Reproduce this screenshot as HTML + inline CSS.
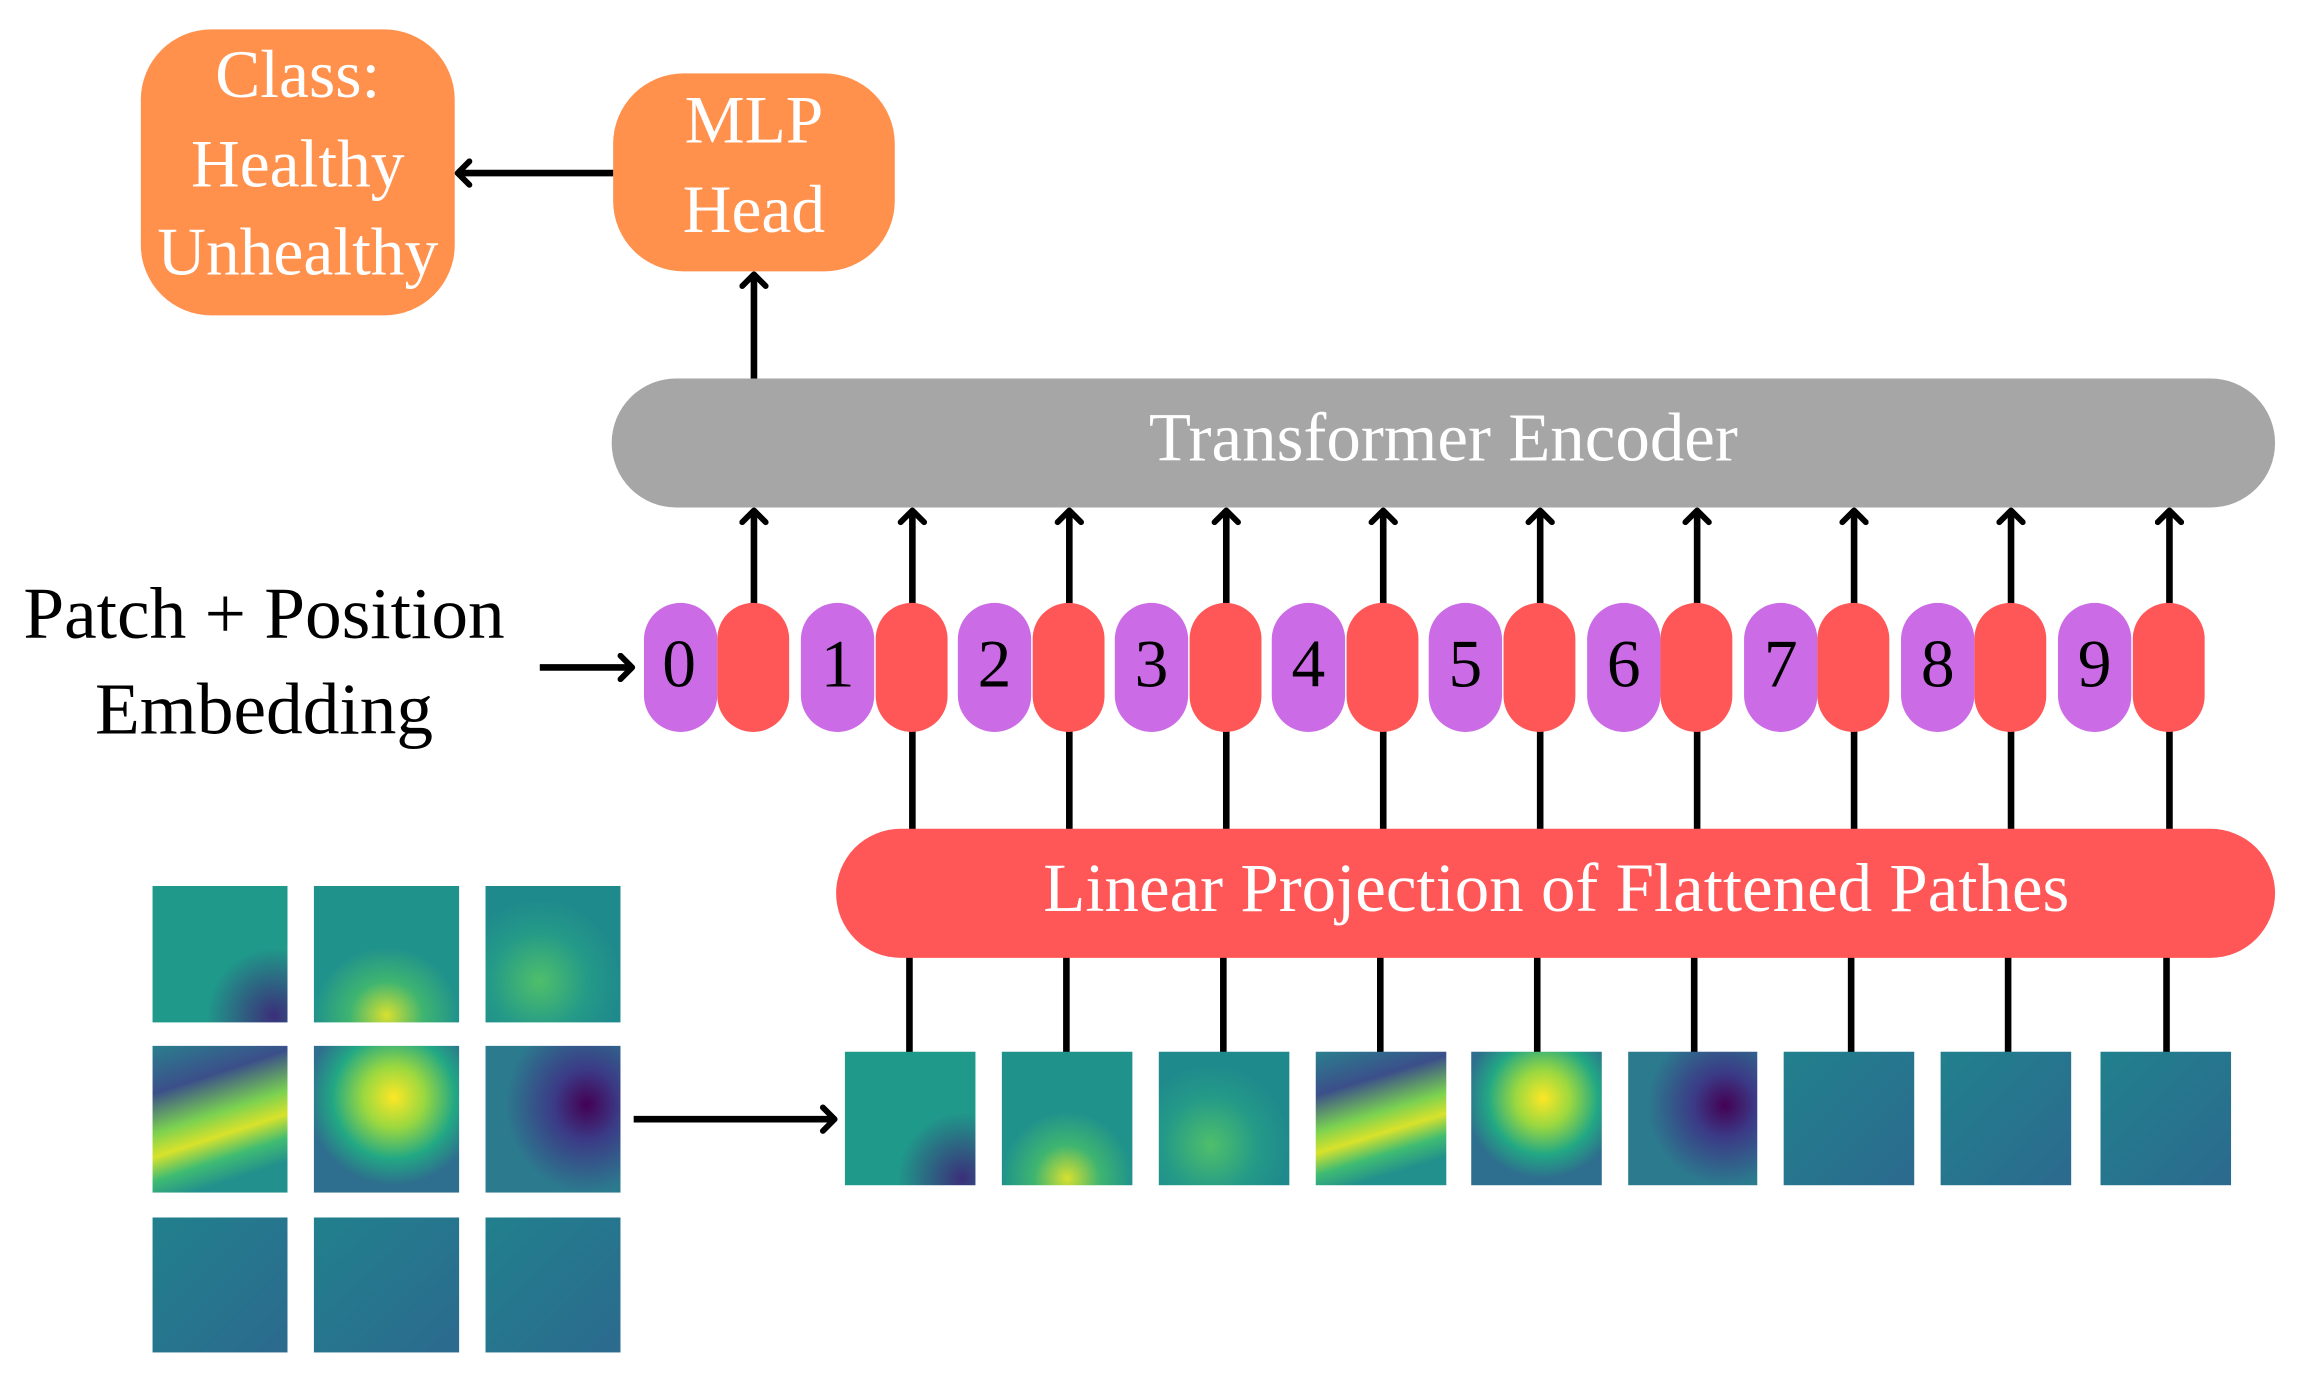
<!DOCTYPE html>
<html><head><style>html,body{margin:0;padding:0;background:#fff}svg{display:block}</style></head>
<body>
<svg width="2300" height="1384" viewBox="0 0 1568 943.5" xmlns="http://www.w3.org/2000/svg" font-family="'Liberation Serif', serif">
<defs>
<marker id="ah" viewBox="0 0 20 20" refX="17" refY="10" markerWidth="20" markerHeight="20" markerUnits="userSpaceOnUse" orient="auto">
<polyline points="9,2 17,10 9,18" fill="none" stroke="#000" stroke-width="4" stroke-linecap="round" stroke-linejoin="round"/>
</marker>
<radialGradient id="g1" cx="0.9" cy="0.95" r="0.5"><stop offset="0" stop-color="#3b2f7a"/><stop offset="1" stop-color="#1f9a8a"/></radialGradient>
<radialGradient id="g2" cx="0.5" cy="0.95" r="0.5"><stop offset="0" stop-color="#d8e030"/><stop offset="0.5" stop-color="#3fb570"/><stop offset="1" stop-color="#20928c"/></radialGradient>
<radialGradient id="g3" cx="0.4" cy="0.7" r="0.6"><stop offset="0" stop-color="#4fbf6a"/><stop offset="0.6" stop-color="#249a88"/><stop offset="1" stop-color="#1f8a8c"/></radialGradient>
<linearGradient id="g4" x1="0" y1="0" x2="0.3" y2="1"><stop offset="0" stop-color="#2a7f8e"/><stop offset="0.3" stop-color="#3b4f8a"/><stop offset="0.55" stop-color="#7ad151"/><stop offset="0.7" stop-color="#d8e22b"/><stop offset="0.85" stop-color="#3fbc72"/><stop offset="1" stop-color="#22908c"/></linearGradient>
<radialGradient id="g5" cx="0.55" cy="0.35" r="0.6"><stop offset="0" stop-color="#fde725"/><stop offset="0.35" stop-color="#9ad840"/><stop offset="0.7" stop-color="#22a884"/><stop offset="1" stop-color="#2e6e8e"/></radialGradient>
<radialGradient id="g6" cx="0.75" cy="0.4" r="0.6"><stop offset="0" stop-color="#440154"/><stop offset="0.4" stop-color="#3b3a86"/><stop offset="1" stop-color="#2c7a8e"/></radialGradient>
<linearGradient id="g7" x1="0" y1="0" x2="1" y2="1"><stop offset="0" stop-color="#21808d"/><stop offset="1" stop-color="#2c6a8e"/></linearGradient>
</defs>

<rect x="96" y="20" width="214" height="195" rx="48" fill="#FF914D"/>
<g fill="#fff" font-size="46" text-anchor="middle">
<text x="203" y="66">Class:</text>
<text x="203" y="127">Healthy</text>
<text x="203" y="187">Unhealthy</text>
</g>
<rect x="418" y="50" width="192" height="135" rx="48" fill="#FF914D"/>
<g fill="#fff" font-size="46" text-anchor="middle">
<text x="514" y="97">MLP</text>
<text x="514" y="158">Head</text>
</g>
<line x1="418" y1="118" x2="312" y2="118" stroke="#000" stroke-width="4.5" marker-end="url(#ah)"/>
<line x1="514" y1="258" x2="514" y2="187" stroke="#000" stroke-width="4.5" marker-end="url(#ah)"/>

<rect x="417" y="258" width="1134" height="88" rx="44" fill="#A6A6A6"/>
<text x="984" y="314" fill="#fff" font-size="47" text-anchor="middle">Transformer Encoder</text>

<g font-size="50" text-anchor="middle" fill="#000">
<text x="180" y="435">Patch + Position</text>
<text x="180" y="500">Embedding</text>
</g>
<line x1="368" y1="455" x2="431" y2="455" stroke="#000" stroke-width="4.5" marker-end="url(#ah)"/>

<g stroke="#000" stroke-width="4.5">
<line x1="514" y1="412" x2="514" y2="348" marker-end="url(#ah)"/>
<line x1="622" y1="412" x2="622" y2="348" marker-end="url(#ah)"/>
<line x1="729" y1="412" x2="729" y2="348" marker-end="url(#ah)"/>
<line x1="836" y1="412" x2="836" y2="348" marker-end="url(#ah)"/>
<line x1="943" y1="412" x2="943" y2="348" marker-end="url(#ah)"/>
<line x1="1050" y1="412" x2="1050" y2="348" marker-end="url(#ah)"/>
<line x1="1157" y1="412" x2="1157" y2="348" marker-end="url(#ah)"/>
<line x1="1264" y1="412" x2="1264" y2="348" marker-end="url(#ah)"/>
<line x1="1371" y1="412" x2="1371" y2="348" marker-end="url(#ah)"/>
<line x1="1479" y1="412" x2="1479" y2="348" marker-end="url(#ah)"/>
<line x1="622" y1="498" x2="622" y2="566"/>
<line x1="729" y1="498" x2="729" y2="566"/>
<line x1="836" y1="498" x2="836" y2="566"/>
<line x1="943" y1="498" x2="943" y2="566"/>
<line x1="1050" y1="498" x2="1050" y2="566"/>
<line x1="1157" y1="498" x2="1157" y2="566"/>
<line x1="1264" y1="498" x2="1264" y2="566"/>
<line x1="1371" y1="498" x2="1371" y2="566"/>
<line x1="1479" y1="498" x2="1479" y2="566"/>
<line x1="620" y1="652" x2="620" y2="718"/>
<line x1="727" y1="652" x2="727" y2="718"/>
<line x1="834" y1="652" x2="834" y2="718"/>
<line x1="941" y1="652" x2="941" y2="718"/>
<line x1="1048" y1="652" x2="1048" y2="718"/>
<line x1="1155" y1="652" x2="1155" y2="718"/>
<line x1="1262" y1="652" x2="1262" y2="718"/>
<line x1="1369" y1="652" x2="1369" y2="718"/>
<line x1="1477" y1="652" x2="1477" y2="718"/>
</g>
<g font-size="46" text-anchor="middle" fill="#000">
<rect x="439" y="411" width="50" height="88" rx="25" fill="#CB6CE6"/><rect x="489" y="411" width="49" height="88" rx="24.5" fill="#FF5757"/><text x="463" y="468">0</text>
<rect x="546" y="411" width="50" height="88" rx="25" fill="#CB6CE6"/><rect x="597" y="411" width="49" height="88" rx="24.5" fill="#FF5757"/><text x="571" y="468">1</text>
<rect x="653" y="411" width="50" height="88" rx="25" fill="#CB6CE6"/><rect x="704" y="411" width="49" height="88" rx="24.5" fill="#FF5757"/><text x="678" y="468">2</text>
<rect x="760" y="411" width="50" height="88" rx="25" fill="#CB6CE6"/><rect x="811" y="411" width="49" height="88" rx="24.5" fill="#FF5757"/><text x="785" y="468">3</text>
<rect x="867" y="411" width="50" height="88" rx="25" fill="#CB6CE6"/><rect x="918" y="411" width="49" height="88" rx="24.5" fill="#FF5757"/><text x="892" y="468">4</text>
<rect x="974" y="411" width="50" height="88" rx="25" fill="#CB6CE6"/><rect x="1025" y="411" width="49" height="88" rx="24.5" fill="#FF5757"/><text x="999" y="468">5</text>
<rect x="1082" y="411" width="50" height="88" rx="25" fill="#CB6CE6"/><rect x="1132" y="411" width="49" height="88" rx="24.5" fill="#FF5757"/><text x="1107" y="468">6</text>
<rect x="1189" y="411" width="50" height="88" rx="25" fill="#CB6CE6"/><rect x="1239" y="411" width="49" height="88" rx="24.5" fill="#FF5757"/><text x="1214" y="468">7</text>
<rect x="1296" y="411" width="50" height="88" rx="25" fill="#CB6CE6"/><rect x="1346" y="411" width="49" height="88" rx="24.5" fill="#FF5757"/><text x="1321" y="468">8</text>
<rect x="1403" y="411" width="50" height="88" rx="25" fill="#CB6CE6"/><rect x="1454" y="411" width="49" height="88" rx="24.5" fill="#FF5757"/><text x="1428" y="468">9</text>
</g>

<rect x="570" y="565" width="981" height="88" rx="44" fill="#FF5757"/>
<text x="1061" y="621" fill="#fff" font-size="47" text-anchor="middle">Linear Projection of Flattened Pathes</text>

<rect x="576" y="717" width="89" height="91" fill="url(#g1)"/>
<rect x="683" y="717" width="89" height="91" fill="url(#g2)"/>
<rect x="790" y="717" width="89" height="91" fill="url(#g3)"/>
<rect x="897" y="717" width="89" height="91" fill="url(#g4)"/>
<rect x="1003" y="717" width="89" height="91" fill="url(#g5)"/>
<rect x="1110" y="717" width="88" height="91" fill="url(#g6)"/>
<rect x="1216" y="717" width="89" height="91" fill="url(#g7)"/>
<rect x="1323" y="717" width="89" height="91" fill="url(#g7)"/>
<rect x="1432" y="717" width="89" height="91" fill="url(#g7)"/>

<rect x="104" y="604" width="92" height="93" fill="url(#g1)"/>
<rect x="214" y="604" width="99" height="93" fill="url(#g2)"/>
<rect x="331" y="604" width="92" height="93" fill="url(#g3)"/>
<rect x="104" y="713" width="92" height="100" fill="url(#g4)"/>
<rect x="214" y="713" width="99" height="100" fill="url(#g5)"/>
<rect x="331" y="713" width="92" height="100" fill="url(#g6)"/>
<rect x="104" y="830" width="92" height="92" fill="url(#g7)"/>
<rect x="214" y="830" width="99" height="92" fill="url(#g7)"/>
<rect x="331" y="830" width="92" height="92" fill="url(#g7)"/>

<line x1="432" y1="763" x2="569" y2="763" stroke="#000" stroke-width="4.5" marker-end="url(#ah)"/>
</svg>
</body></html>
